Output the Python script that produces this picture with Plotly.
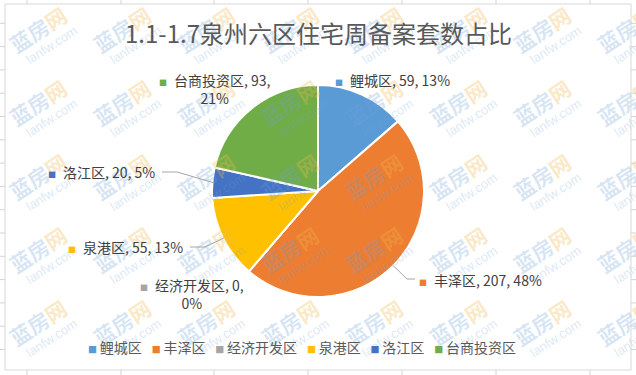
import math
import base64
import plotly.graph_objects as go

# ---------------- data ----------------
labels = ["鲤城区", "丰泽区", "经济开发区", "泉港区", "洛江区", "台商投资区"]
values = [59, 207, 0, 55, 20, 93]
pct_labels = ["13%", "48%", "0%", "13%", "5%", "21%"]
colors = ["#5B9BD5", "#ED7D31", "#A5A5A5", "#FFC000", "#4472C4", "#70AD47"]
title_text = "1.1-1.7泉州六区住宅周备案套数占比"

# ---------------- layout helpers ----------------
W, H = 636, 375
def X(p):
    return p / W
def Y(p):
    return 1 - p / H

CX, CY, R = 318, 191, 106
FONT = "Noto Sans CJK SC"

fig = go.Figure(go.Pie(
    labels=labels, values=values, sort=False, direction="clockwise", rotation=0,
    marker=dict(colors=colors, line=dict(color="white", width=2)),
    textinfo="none", hoverinfo="label+value+percent", showlegend=False,
    domain=dict(x=[X(CX - R), X(CX + R)], y=[Y(CY + R), Y(CY - R)]),
))

annotations = []
shapes = []

# title
annotations.append(dict(text=title_text, x=X(CX), y=Y(32), xref="paper", yref="paper",
                        xanchor="center", yanchor="middle", showarrow=False,
                        font=dict(family=FONT, size=24, color="#595959")))

# data labels (placement only; text from data)
label_pos = {"鲤城区": (333, 80, False), "丰泽区": (417, 280, False),
             "经济开发区": (138, 294, True), "泉港区": (66, 247, False),
             "洛江区": (46, 172, False), "台商投资区": (157, 89, True)}
for lab, v, pct, c in zip(labels, values, pct_labels, colors):
    lx, ly, br = label_pos[lab]
    sep = "<br>" if br else " "
    txt = (f"<span style='font-size:8px;color:{c}'>■</span>\u2002"
           f"{lab}, {v},{sep}{pct}")
    annotations.append(dict(text=txt, x=X(lx), y=Y(ly), xref="paper", yref="paper",
                            xanchor="left", yanchor="middle", align="center",
                            showarrow=False,
                            font=dict(family=FONT, size=14, color="#404040")))

# leader lines: from label to slice edge (edge point from slice angles)
leaders = {"洛江区": [(162, 172), (177, 172)],
           "泉港区": [(190, 247), (205, 247)],
           "丰泽区": [(415, 279), (407, 279)]}
total = sum(values)
cum = 0
for lab, v in zip(labels, values):
    mid = (cum + v / 2) / total
    cum += v
    if lab in leaders:
        th = 2 * math.pi * mid
        ex, ey = CX + (R - 1) * math.sin(th), CY - (R - 1) * math.cos(th)
        pts = leaders[lab] + [(ex, ey)]
        path = "M " + " L ".join(f"{X(px)},{Y(py)}" for px, py in pts)
        shapes.append(dict(type="path", path=path, xref="paper", yref="paper",
                           line=dict(color="#A6A6A6", width=1)))

# legend (built from labels / colors)
legend_txt = "\u2002\u2009".join(
    f"<span style='font-size:9px;color:{c}'>■</span>\u2009{lab}"
    for lab, c in zip(labels, colors))
annotations.append(dict(text=legend_txt, x=X(302), y=Y(347), xref="paper", yref="paper",
                        xanchor="center", yanchor="middle", showarrow=False,
                        font=dict(family=FONT, size=14, color="#595959")))

# chart-area border and spreadsheet grid around it
grid = "#D4D4D4"
shapes.append(dict(type="rect", x0=X(5), x1=X(631), y0=Y(370), y1=Y(4),
                   xref="paper", yref="paper", line=dict(color="#D9D9D9", width=1)))
for k in range(1, 16):
    yy = 23.3 * k
    shapes.append(dict(type="line", x0=0, x1=X(5), y0=Y(yy), y1=Y(yy), xref="paper",
                       yref="paper", line=dict(color=grid, width=1)))
    shapes.append(dict(type="line", x0=X(631), x1=1, y0=Y(yy), y1=Y(yy), xref="paper",
                       yref="paper", line=dict(color=grid, width=1)))
for xx in [27, 121, 214, 308, 402, 496, 590]:
    shapes.append(dict(type="line", x0=X(xx), x1=X(xx), y0=1, y1=Y(4), xref="paper",
                       yref="paper", line=dict(color=grid, width=1)))
    shapes.append(dict(type="line", x0=X(xx), x1=X(xx), y0=Y(370), y1=0, xref="paper",
                       yref="paper", line=dict(color=grid, width=1)))

# faint site watermark tiled over the picture
wm = []
for L in [10 + 84 * i for i in range(-1, 9)]:
    for T in [-63, 10, 83, 157, 230, 303]:
        ax, ay = L + 29, T + 21
        wm.append(
            f"<g transform='translate({ax},{ay}) rotate(-33)'>"
            f"<text x='0' y='7' text-anchor='middle' font-family='Noto Sans CJK SC' "
            f"font-size='21' font-weight='bold' fill='#6EA0D7' fill-opacity='0.28'>蓝房"
            f"<tspan fill='#F0B850' fill-opacity='0.32'>网</tspan></text>"
            f"<text x='3' y='23' text-anchor='middle' font-family='Liberation Sans' "
            f"font-size='13' fill='#6EA0D7' fill-opacity='0.26'>lanfw.com</text></g>")
svg = (f"<svg xmlns='http://www.w3.org/2000/svg' width='{W}' height='{H}' "
       f"viewBox='0 0 {W} {H}'>" + "".join(wm) + "</svg>")
uri = "data:image/svg+xml;base64," + base64.b64encode(svg.encode("utf-8")).decode()

fig.update_layout(width=W, height=H, autosize=False,
                  margin=dict(l=0, r=0, t=0, b=0),
                  paper_bgcolor="white", plot_bgcolor="white",
                  showlegend=False, annotations=annotations, shapes=shapes,
                  images=[dict(source=uri, xref="paper", yref="paper", x=0, y=1,
                               sizex=1, sizey=1, xanchor="left", yanchor="top",
                               sizing="stretch", layer="above")])

fig.write_html("out.html", config={"displayModeBar": False},
               post_script="document.body.style.margin='0';"
                           "document.body.style.overflow='hidden';")
